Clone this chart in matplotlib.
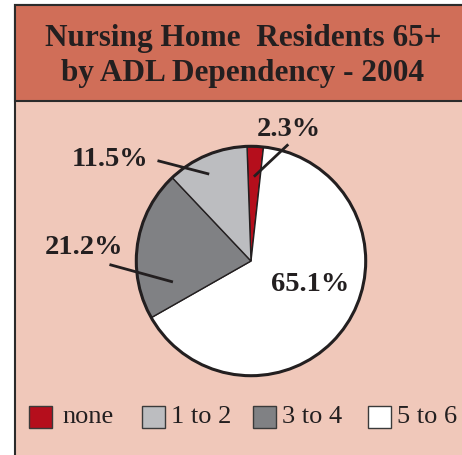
import numpy as np
import matplotlib.pyplot as plt
from matplotlib.patches import Rectangle

# data
categories = ['none', '1 to 2', '3 to 4', '5 to 6']
shares = [2.3, 11.5, 21.2, 65.1]
colors = ['#b50e1c', '#bcbdc0', '#808184', '#ffffff']
title = 'Nursing Home  Residents 65+\nby ADL Dependency - 2004'

W, H = 462, 455
fig = plt.figure(figsize=(W / 100, H / 100), dpi=100)
serif = ['Liberation Serif', 'DejaVu Serif']

# pixel-coordinate background axes
bg = fig.add_axes([0, 0, 1, 1])
bg.set_xlim(0, W)
bg.set_ylim(H, 0)
bg.axis('off')
bg.add_patch(Rectangle((0, 0), W, H, color='white', zorder=0))
bg.add_patch(Rectangle((15, 5), W, H, facecolor='#f0c8ba', edgecolor='#2b2b2b', lw=1.5, zorder=1))
bg.add_patch(Rectangle((15, 5), W, 96, facecolor='#d06e58', edgecolor='#2b2b2b', lw=1.5, zorder=2))
bg.text(243, 56, title, ha='center', va='center', fontsize=22.5, fontweight='bold',
        family=serif, color='#231f20', linespacing=1.3, zorder=3)

# pie, center (251, 261), radius 117 px
cx, cy, r = 251, 261, 117
pie_ax = fig.add_axes([(cx - r) / W, (H - cy - r) / H, 2 * r / W, 2 * r / H])
order = [0, 3, 2, 1]  # clockwise from top: none, 5 to 6, 3 to 4, 1 to 2
wedges, _ = pie_ax.pie([shares[i] for i in order], colors=[colors[i] for i in order],
                       startangle=92, counterclock=False,
                       wedgeprops=dict(edgecolor='#231f20', linewidth=1.0))
pie_ax.add_patch(plt.Circle((0, 0), 1, fill=False, edgecolor='#231f20', lw=2.2))
pie_ax.set_xlim(-1.02, 1.02)
pie_ax.set_ylim(-1.02, 1.02)
pie_ax.set_aspect('equal')
pie_ax.axis('off')

def px(x, y):
    return ((x - cx) / r, (cy - y) / r)

# labels: (text position, line start, line end) in pixels
labels = {
    0: ((289, 130), (288, 143), (255, 174)),
    1: ((110, 160), (157, 159), (207, 172)),
    2: ((84, 247), (108, 265), (170, 282)),
}
for i, (tpos, p0, p1) in labels.items():
    bg.text(*tpos, f'{shares[i]}%', ha='center', va='center', fontsize=20.5,
            fontweight='bold', family=serif, color='#231f20', zorder=5)
bg.set_zorder(pie_ax.get_zorder() - 1)
pie_ax.text(*px(311, 285), f'{shares[3]}%', ha='center', va='center', fontsize=20.5,
            fontweight='bold', family=serif, color='#231f20')
# leader lines over the pie
for i, (tpos, p0, p1) in labels.items():
    a, b = px(*p0), px(*p1)
    pie_ax.plot([a[0], b[0]], [a[1], b[1]], color='#231f20', lw=2, clip_on=False)

# legend
sq_x = [29, 142, 253, 368]
for x0, cat, col in zip(sq_x, categories, colors):
    bg.add_patch(Rectangle((x0, 406), 23, 22, facecolor=col, edgecolor='#3a3a3a', lw=1, zorder=5))
    bg.text(x0 + 33 if cat == 'none' else x0 + 29, 417, cat, ha='left', va='center', fontsize=19,
            family=serif, color='#231f20', zorder=5)

fig.savefig('out.png', dpi=100)
